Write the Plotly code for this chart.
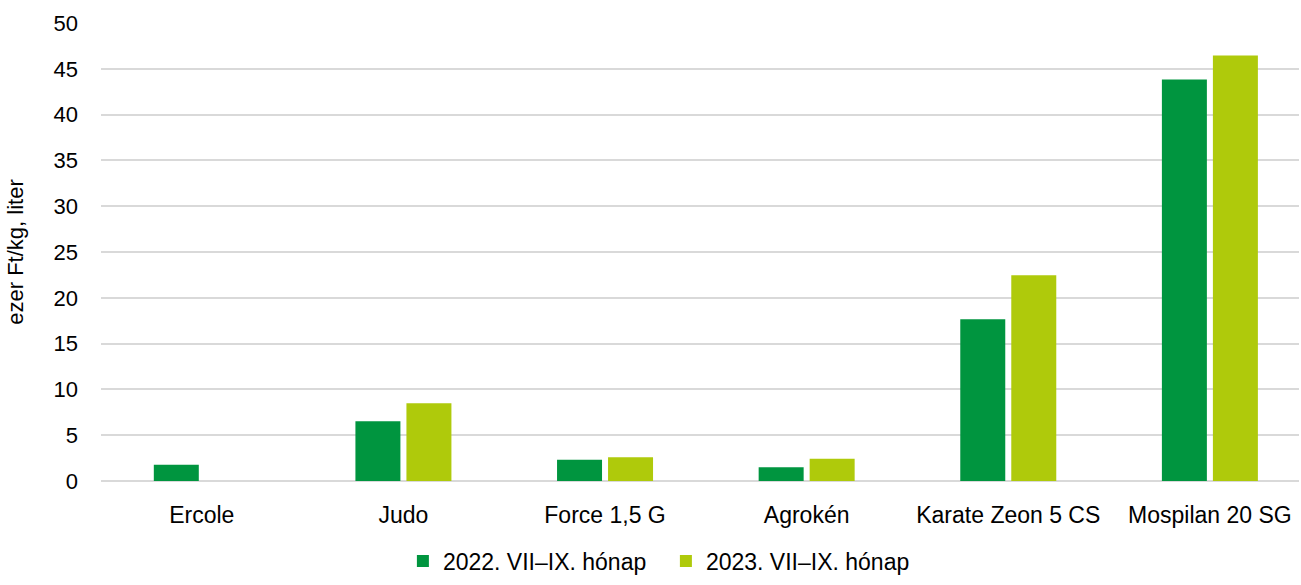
import plotly.graph_objects as go

categories = ["Ercole", "Judo", "Force 1,5 G", "Agrokén", "Karate Zeon 5 CS", "Mospilan 20 SG"]
series_2022 = [1.77, 6.52, 2.32, 1.49, 17.65, 43.84]
series_2023 = [None, 8.48, 2.6, 2.43, 22.47, 46.45]
names = ["2022. VII–IX. hónap", "2023. VII–IX. hónap"]
colors = ["#00953F", "#AFCA0B"]
yticks = [0, 5, 10, 15, 20, 25, 30, 35, 40, 45, 50]

fig = go.Figure()
for name, vals, col in zip(names, [series_2022, series_2023], colors):
    fig.add_trace(go.Bar(x=categories, y=vals, name=name, marker_color=col,
                         marker_line_width=0))

fig.update_layout(
    width=1301, height=585,
    margin=dict(l=101, r=2, t=23, b=102),
    paper_bgcolor="white", plot_bgcolor="white",
    barmode="group", bargap=0.494, bargroupgap=0.118,
    font=dict(family="Liberation Sans, Arial", size=23, color="#000000"),
    legend=dict(orientation="h", x=0.252, xanchor="left", y=-0.2217, yanchor="bottom",
                font=dict(size=23), traceorder="normal", itemwidth=30,
                entrywidth=218, entrywidthmode="pixels"),
    showlegend=True,
)
fig.update_xaxes(showgrid=False, showline=False, ticks="", tickfont=dict(size=23),
                 range=[-0.5, 5.442], ticklabelstandoff=18, automargin=False)
fig.update_yaxes(range=[0, 50], tickvals=yticks, showgrid=True, gridcolor="#d9d9d9",
                 gridwidth=1.5, zeroline=True, zerolinecolor="#d9d9d9", zerolinewidth=1.5,
                 title=dict(text="ezer Ft/kg, liter", font=dict(size=22), standoff=23),
                 tickfont=dict(size=22), ticks="", ticklabelstandoff=22, automargin=False)
fig.write_html("out.html", config={"displayModeBar": False},
               post_script="document.body.style.margin='0';document.body.style.overflow='hidden';")
